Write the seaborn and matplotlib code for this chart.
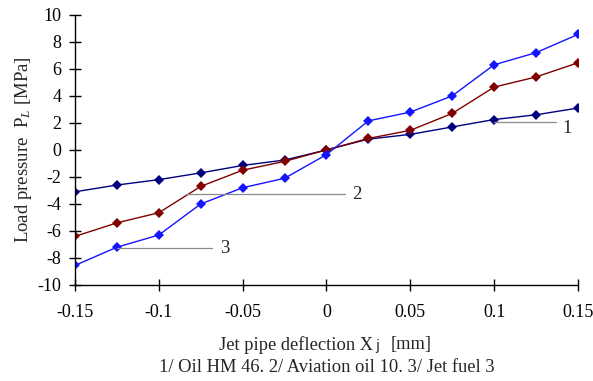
"""
Load pressure vs jet pipe deflection for three working fluids.
"""
import matplotlib
matplotlib.use("Agg")
import matplotlib.pyplot as plt
import numpy as np
import pandas as pd
import seaborn as sns

# deflection X_j [mm]
deflection = [-0.15, -0.125, -0.1, -0.075, -0.05, -0.025, 0.0,
              0.025, 0.05, 0.075, 0.1, 0.125, 0.15]
# load pressure P_L [MPa]
oil_hm46 = [-3.1, -2.6, -2.2, -1.7, -1.15, -0.75, 0.0,
            0.8, 1.15, 1.7, 2.25, 2.6, 3.1]
aviation_oil = [-6.4, -5.4, -4.65, -2.7, -1.5, -0.85, 0.0,
                0.85, 1.45, 2.7, 4.65, 5.4, 6.45]
jet_fuel = [-8.55, -7.2, -6.3, -4.0, -2.8, -2.1, -0.35,
            2.15, 2.8, 4.0, 6.3, 7.2, 8.55]

x_ticks = [-0.15, -0.1, -0.05, 0, 0.05, 0.1, 0.15]
x_ticklabels = ["-0.15", "-0.1", "-0.05", "0", "0.05", "0.1", "0.15"]
y_ticks = list(range(-10, 11, 2))

series = {"1": oil_hm46, "2": aviation_oil, "3": jet_fuel}
colors = {"1": "#000080", "2": "#800000", "3": "#1414ff"}

rows = []
for name, vals in series.items():
    for xv, yv in zip(deflection, vals):
        rows.append({"x": xv, "y": yv, "fluid": name})
df = pd.DataFrame(rows)

sns.set_style("white")
plt.rcParams["font.family"] = ["Liberation Serif", "DejaVu Serif"]
plt.rcParams["mathtext.fontset"] = "custom"
plt.rcParams["mathtext.rm"] = "Liberation Serif"
plt.rcParams["mathtext.it"] = "Liberation Serif:italic"
plt.rcParams["axes.unicode_minus"] = False

fig = plt.figure(figsize=(5.93, 3.81), dpi=100)
ax = fig.add_axes([0.1265, 0.252, 0.848, 0.709])

sns.lineplot(data=df, x="x", y="y", hue="fluid", palette=colors,
             marker="D", markersize=5, markeredgewidth=0, linewidth=1.0,
             legend=False, ax=ax)

# leader lines for the curve numbers
gray = "#8c8c8c"
ax.plot([0.1, 0.137], [2.1, 2.1], color=gray, lw=0.9)
ax.text(0.1405, 1.6, "1", fontsize=13.5, ha="left", va="center")
ax.plot([-0.084, 0.011], [-3.3, -3.3], color=gray, lw=0.9)
ax.text(0.0155, -3.3, "2", fontsize=13.5, ha="left", va="center")
ax.plot([-0.125, -0.068], [-7.25, -7.25], color=gray, lw=0.9)
ax.text(-0.0635, -7.3, "3", fontsize=13.5, ha="left", va="center")

ax.set_xlim(-0.15, 0.15)
ax.set_ylim(-10, 10)
ax.set_xticks(x_ticks)
ax.set_xticklabels(x_ticklabels)
ax.set_yticks(y_ticks)
ax.tick_params(direction="inout", length=8, width=1, labelsize=13,
               colors="black", bottom=True, left=True)
ax.tick_params(axis="y", pad=6)
ax.tick_params(axis="x", pad=10)

for side in ["top", "right"]:
    ax.spines[side].set_visible(False)
for side in ["left", "bottom"]:
    ax.spines[side].set_color("black")
    ax.spines[side].set_linewidth(1.0)

ax.set_ylabel(r"Load pressure  P$_{\mathit{L}}$ [MPa]", fontsize=13.5, labelpad=2)
ax.set_xlabel("")
fig.text(0.629, 0.0945, "Jet pipe deflection X", fontsize=13.3, ha="right", va="center")
fig.text(0.632, 0.091, "j", fontsize=10, ha="left", va="center",
         family=["DejaVu Sans"])
fig.text(0.658, 0.0945, "[mm]", fontsize=13.3, ha="left", va="center")
fig.text(0.5506, 0.0367, "1/ Oil HM 46. 2/ Aviation oil 10. 3/ Jet fuel 3",
         fontsize=13.3, ha="center", va="center")

fig.savefig("out.png", dpi=100)
